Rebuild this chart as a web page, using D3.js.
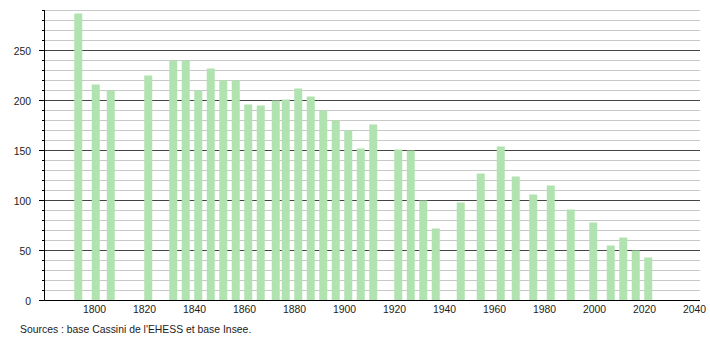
<!DOCTYPE html>
<html>
<head>
<meta charset="utf-8">
<script src="https://cdn.jsdelivr.net/npm/d3@7"></script>
<style>
  body { margin: 0; background: #fff; }
  svg text { font-family: "Liberation Sans", Arial, sans-serif; fill: #222; }
</style>
</head>
<body>
<svg id="chart" width="710" height="340"></svg>
<script>
// census years and population
var years = [1793, 1800, 1806, 1821, 1831, 1836, 1841, 1846, 1851, 1856, 1861, 1866,
             1872, 1876, 1881, 1886, 1891, 1896, 1901, 1906, 1911, 1921, 1926, 1931,
             1936, 1946, 1954, 1962, 1968, 1975, 1982, 1990, 1999, 2006, 2011, 2016, 2021];
var population = [287, 216, 210, 225, 240, 240, 210, 232, 220, 220, 196, 195,
                  200, 201, 212, 204, 190, 180, 170, 152, 176, 151, 150, 100,
                  72, 98, 127, 154, 124, 106, 115, 91, 78, 55, 63, 50, 43];
var yTicks = [0, 50, 100, 150, 200, 250];
var xTicks = [1800, 1820, 1840, 1860, 1880, 1900, 1920, 1940, 1960, 1980, 2000, 2020, 2040];
var source = "Sources : base Cassini de l'EHESS et base Insee.";

var svg = d3.select("#chart");
var left = 44.5, right = 700;
var fs = 10.4;

var x = d3.scaleLinear().domain([1780, 2040]).range([44.5, 694.5]);
var y = d3.scaleLinear().domain([0, 290]).range([300.5, 10.5]);

// horizontal grid: light every 10, dark every 50
var minor = d3.range(10, 300, 10).filter(function(v){ return v % 50 != 0; });
svg.selectAll("line.minor").data(minor).enter().append("line")
  .attr("x1", left).attr("x2", right)
  .attr("y1", function(d){ return y(d); }).attr("y2", function(d){ return y(d); })
  .attr("stroke", "#c8c8c8").attr("stroke-width", 1);
svg.selectAll("line.major").data(yTicks.filter(function(v){ return v > 0; })).enter().append("line")
  .attr("x1", left).attr("x2", right)
  .attr("y1", function(d){ return y(d); }).attr("y2", function(d){ return y(d); })
  .attr("stroke", "#444").attr("stroke-width", 1);

// bars, centred half a year after the census date
svg.selectAll("rect.bar").data(years).enter().append("rect")
  .attr("x", function(d){ return x(d + 0.5) - 4; })
  .attr("width", 8)
  .attr("y", function(d, i){ return y(population[i]); })
  .attr("height", function(d, i){ return y(0) - y(population[i]); })
  .attr("fill", "#b0e3b0");

// y axis with small ticks every 10
svg.selectAll("line.ytick").data(d3.range(0, 300, 10)).enter().append("line")
  .attr("x1", function(d){ return d % 50 == 0 ? 39 : 42; }).attr("x2", left)
  .attr("y1", function(d){ return y(d); }).attr("y2", function(d){ return y(d); })
  .attr("stroke", "#000");
svg.append("line").attr("x1", left).attr("x2", left).attr("y1", y(0)).attr("y2", 10)
  .attr("stroke", "#000");
svg.selectAll("text.ylab").data(yTicks).enter().append("text")
  .attr("x", 31).attr("y", function(d){ return y(d) + 4; })
  .attr("text-anchor", "end").attr("font-size", fs)
  .text(function(d){ return d; });

// x axis
svg.append("line").attr("x1", left).attr("x2", right).attr("y1", y(0)).attr("y2", y(0))
  .attr("stroke", "#000");
svg.selectAll("text.xlab").data(xTicks).enter().append("text")
  .attr("x", function(d){ return x(d); }).attr("y", 312.5)
  .attr("text-anchor", "middle").attr("font-size", fs)
  .text(function(d){ return d; });

svg.append("text").attr("x", 20).attr("y", 333).attr("font-size", fs).text(source);
</script>
</body>
</html>
